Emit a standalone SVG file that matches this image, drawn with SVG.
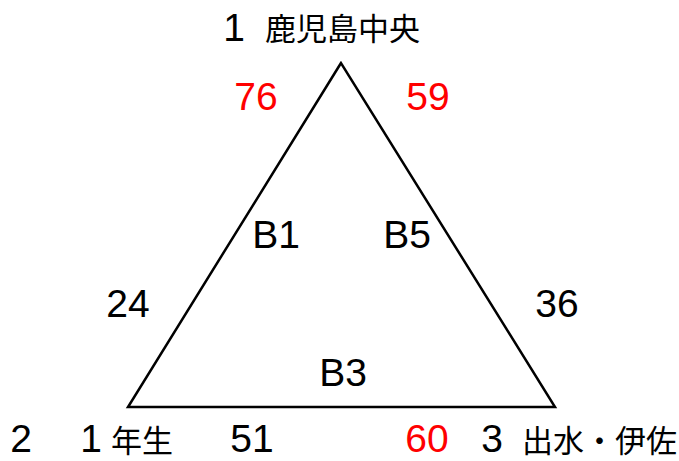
<svg xmlns="http://www.w3.org/2000/svg" width="679" height="461" viewBox="0 0 679 461">
<style>
.n{font-family:"Liberation Sans",Arial,sans-serif;font-size:39px;fill:#000;text-anchor:middle}
.r{fill:#ff0000}
.j{font-family:"Noto Sans CJK JP",sans-serif;font-size:31px;fill:#000}
.edge{fill:none;stroke:#000;stroke-width:2.5;stroke-linejoin:miter}
</style>
<rect width="679" height="461" fill="#fff"/>
<g id="connectors">
<path class="edge" d="M341,63 L128,407 L555,407 Z"/>
</g>
<g id="node1">
<text class="n" x="234" y="41">1</text>
<text class="j" x="265" y="40">鹿児島中央</text>
</g>
<g id="node2">
<text class="n" x="21" y="452">2</text>
<text class="n" x="91" y="452">1</text>
<text class="j" x="111" y="452">年生</text>
</g>
<g id="node3">
<text class="n" x="492" y="452">3</text>
<text class="j" x="522" y="452">出水・伊佐</text>
</g>
<g id="labels">
<text class="n r" x="256" y="110">76</text>
<text class="n r" x="428" y="110">59</text>
<text class="n" x="276" y="248">B1</text>
<text class="n" x="407" y="248">B5</text>
<text class="n" x="128" y="317">24</text>
<text class="n" x="557" y="317">36</text>
<text class="n" x="343" y="386">B3</text>
<text class="n" x="252" y="452">51</text>
<text class="n r" x="427" y="452">60</text>
</g>
</svg>
